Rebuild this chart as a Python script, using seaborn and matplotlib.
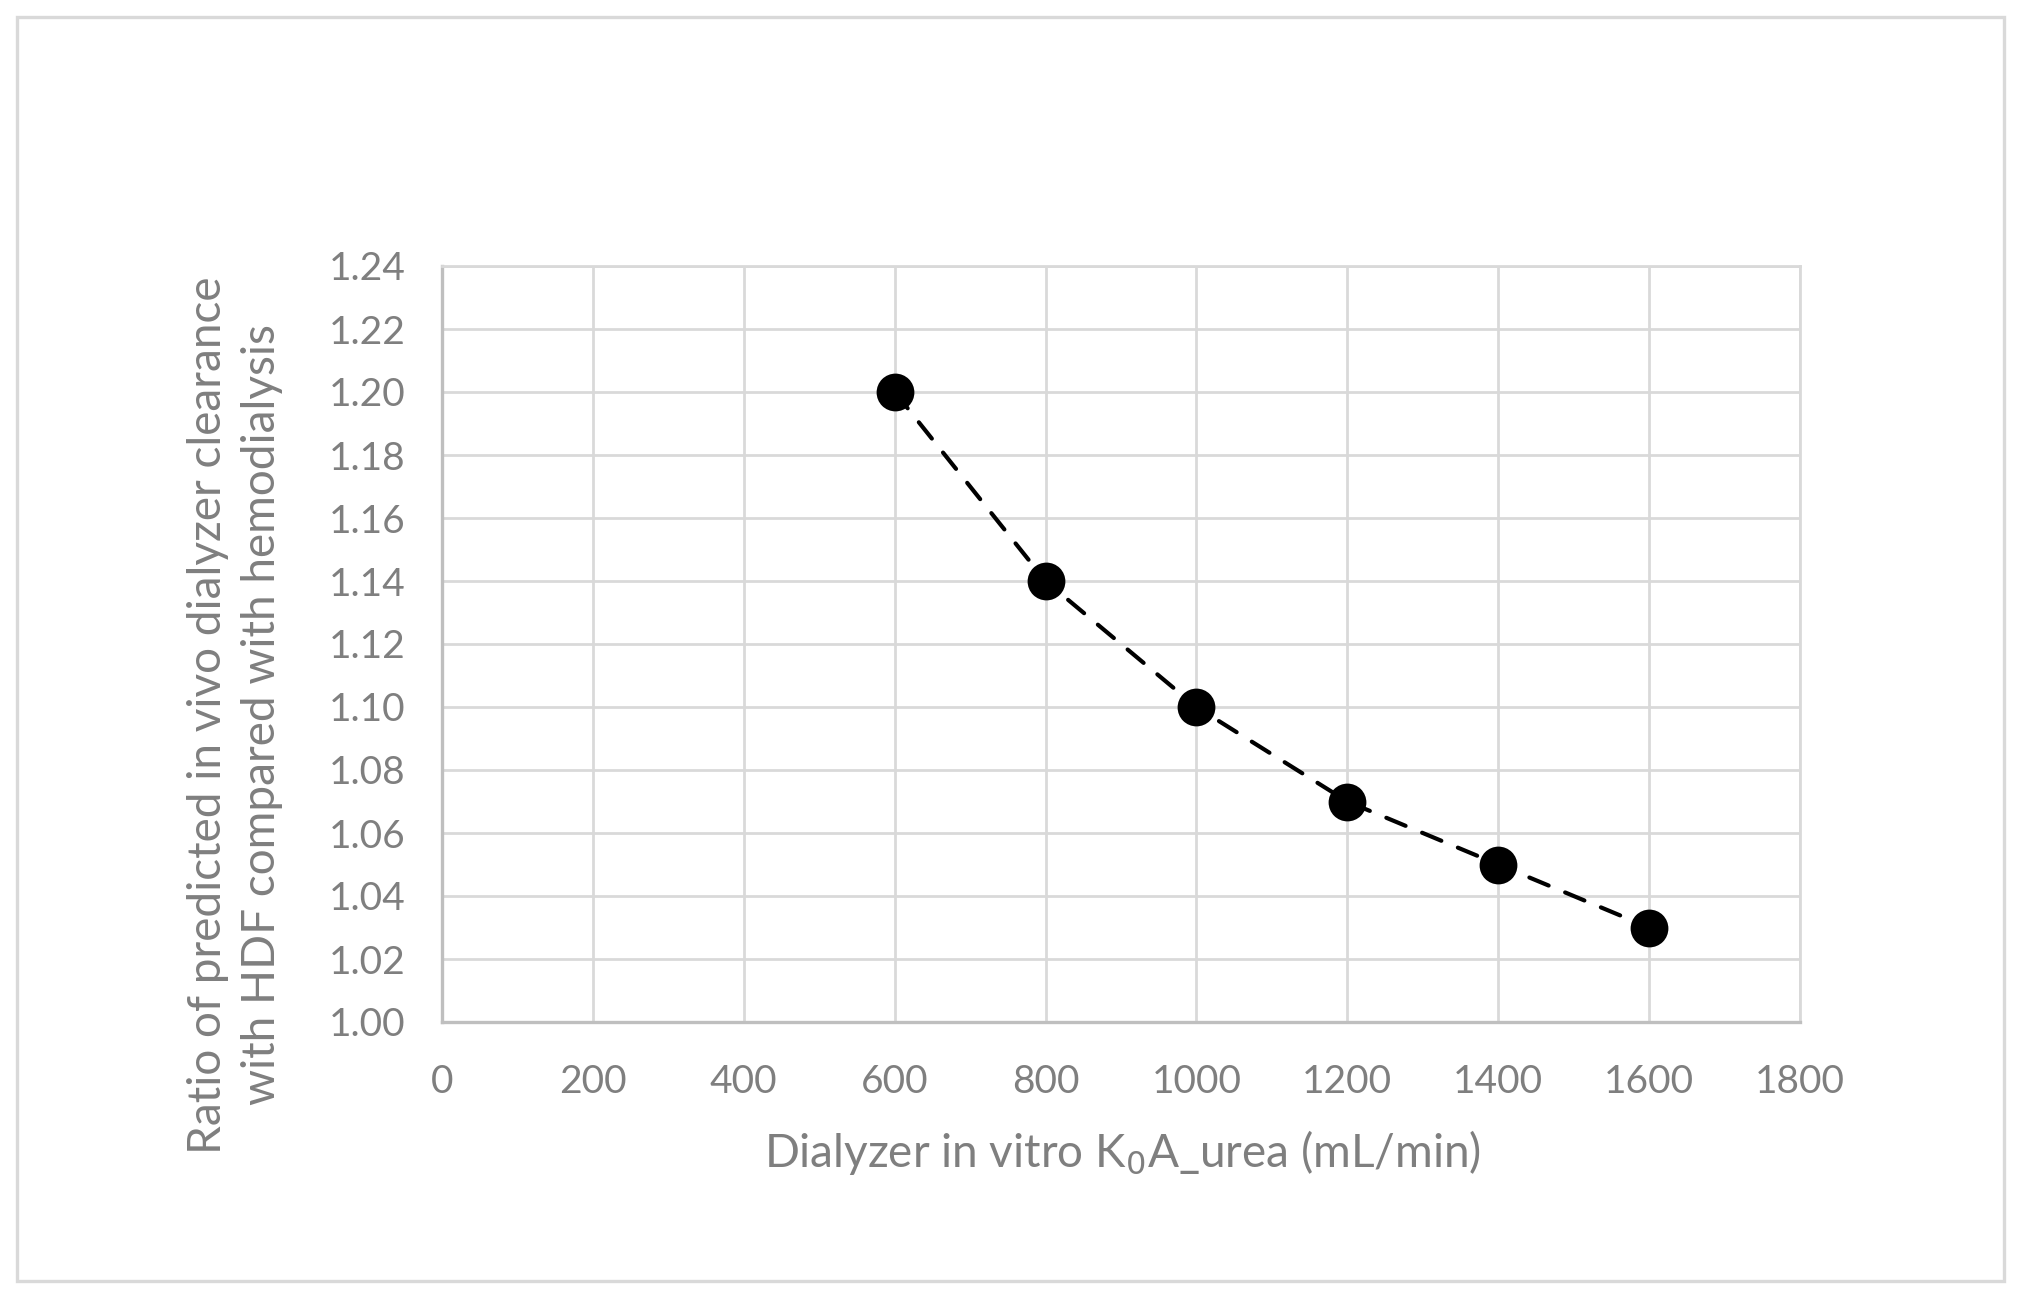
import pandas as pd
import matplotlib.pyplot as plt
import seaborn as sns
from matplotlib.patches import Rectangle

# data
koa_urea = [600, 800, 1000, 1200, 1400, 1600]
clearance_ratio = [1.20, 1.14, 1.10, 1.07, 1.05, 1.03]
x_ticks = [0, 200, 400, 600, 800, 1000, 1200, 1400, 1600, 1800]
y_ticks = [1.00, 1.02, 1.04, 1.06, 1.08, 1.10, 1.12, 1.14, 1.16, 1.18, 1.20, 1.22, 1.24]

df = pd.DataFrame({'koa': koa_urea, 'ratio': clearance_ratio})

sns.set_style("white")
plt.rcParams['font.family'] = ['Lato', 'DejaVu Sans']

text_gray = '#7f7f7f'
grid_gray = '#d9d9d9'
axis_gray = '#bfbfbf'

fig = plt.figure(figsize=(20.21, 12.97), dpi=100)
ax = fig.add_axes([442 / 2021, 1 - 1022 / 1297, (1800 - 442) / 2021, (1022 - 266) / 1297])

# dashed trend line and markers
sns.lineplot(data=df, x='koa', y='ratio', ax=ax, color='black', linewidth=3.0,
             dashes=False, zorder=3)
ax.lines[0].set_dashes((5, 4.3))
ax.lines[0].set_dash_capstyle('round')
sns.scatterplot(data=df, x='koa', y='ratio', ax=ax, color='black', s=740,
                edgecolor='black', linewidth=0, zorder=4)

ax.set_xlim(0, 1800)
ax.set_ylim(1.00, 1.24)
ax.set_xticks(x_ticks)
ax.set_yticks(y_ticks)
ax.set_xticklabels([str(t) for t in x_ticks])
ax.set_yticklabels([f'{t:.2f}' for t in y_ticks])
ax.tick_params(axis='both', length=0, labelsize=28, labelcolor=text_gray)
ax.tick_params(axis='x', pad=30)
ax.tick_params(axis='y', pad=26)

ax.grid(True, color=grid_gray, linewidth=2.0)
ax.set_axisbelow(True)
for side in ['top', 'right']:
    ax.spines[side].set_color(grid_gray)
    ax.spines[side].set_linewidth(2.0)
for side in ['left', 'bottom']:
    ax.spines[side].set_color(axis_gray)
    ax.spines[side].set_linewidth(2.4)

ax.set_xlabel('')
ax.set_ylabel('')
fig.text(1122 / 2021, 1 - 1153 / 1297, 'Dialyzer in vitro K$_{0}$A_urea (mL/min)',
         ha='center', va='center', fontsize=33, color=text_gray)
fig.text(235 / 2021, 1 - 715 / 1297,
         'Ratio of predicted in vivo dialyzer clearance\nwith HDF compared with hemodialysis',
         ha='center', va='center', rotation=90, fontsize=33, color=text_gray,
         multialignment='center', linespacing=1.33)

# outer chart-area border
fig.patches.append(Rectangle((17 / 2021, 1 - 1281 / 1297), (2004 - 17) / 2021, (1281 - 17) / 1297,
                             transform=fig.transFigure, fill=False,
                             edgecolor=grid_gray, linewidth=2.4))

fig.savefig('out.png', dpi=100, facecolor='white')
